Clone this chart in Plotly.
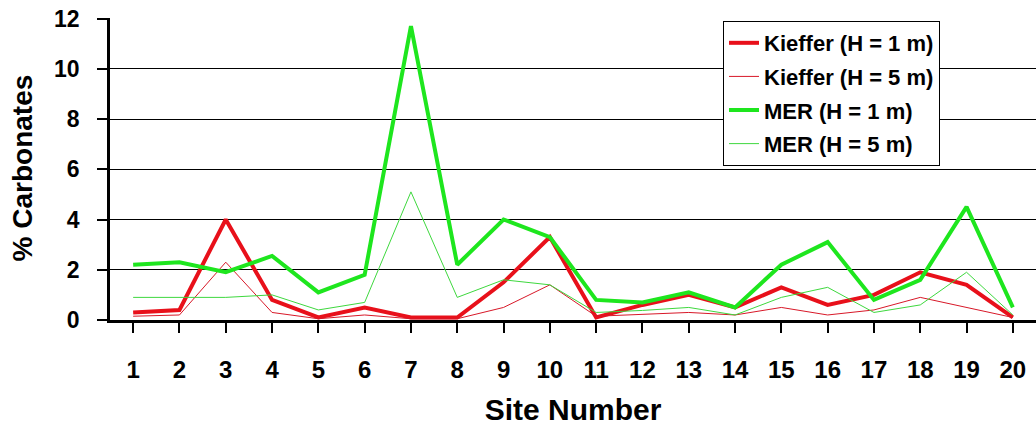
import plotly.graph_objects as go

sites = list(range(1, 21))
tick_labels = [str(s) for s in sites]

kieffer_1m = [0.3, 0.4, 4.0, 0.8, 0.1, 0.5, 0.1, 0.1, 1.5, 3.3,
              0.1, 0.6, 1.0, 0.5, 1.3, 0.6, 1.0, 1.9, 1.4, 0.1]
kieffer_5m = [0.15, 0.2, 2.3, 0.3, 0.05, 0.2, 0.05, 0.05, 0.5, 1.4,
              0.15, 0.22, 0.3, 0.2, 0.5, 0.2, 0.4, 0.9, 0.5, 0.1]
mer_1m = [2.2, 2.3, 1.9, 2.55, 1.1, 1.8, 11.7, 2.2, 4.0, 3.3,
          0.8, 0.7, 1.1, 0.5, 2.2, 3.1, 0.8, 1.6, 4.5, 0.5]
mer_5m = [0.9, 0.9, 0.9, 1.0, 0.4, 0.7, 5.1, 0.9, 1.6, 1.4,
          0.3, 0.38, 0.5, 0.2, 0.9, 1.3, 0.3, 0.6, 1.9, 0.2]
y_ticks = [0, 2, 4, 6, 8, 10, 12]

RED = "#e8101a"
GREEN = "#1ee61e"
FONT = "Liberation Sans, Arial, sans-serif"

fig = go.Figure()
series = [
    ("Kieffer (H = 1 m)", kieffer_1m, RED, 4),
    ("Kieffer (H = 5 m)", kieffer_5m, "#d81828", 1),
    ("MER (H = 1 m)", mer_1m, GREEN, 4),
    ("MER (H = 5 m)", mer_5m, "#3ed83e", 1),
]
for i, (name, vals, col, w) in enumerate(series):
    fig.add_trace(go.Scatter(x=sites, y=vals, mode="lines", name=name,
                             legendgroup=f"g{i}",
                             line=dict(color=col, width=w)))

fig.update_layout(
    width=1036, height=428,
    margin=dict(l=110, r=0, t=18, b=108),
    paper_bgcolor="white", plot_bgcolor="white",
    font=dict(family=FONT, color="black"),
    showlegend=True,
    legend=dict(x=0.662, y=0.99, xanchor="left", yanchor="top",
                bgcolor="white", bordercolor="black", borderwidth=1,
                font=dict(size=22, family=FONT, color="black", weight="bold"),
                tracegroupgap=2, traceorder="grouped"),
    xaxis=dict(range=[0.5, 20.5], tickmode="array", tickvals=sites,
               ticktext=tick_labels, ticks="outside", ticklen=10,
               tickwidth=2, tickcolor="black", showgrid=False,
               showline=True, linecolor="black", linewidth=3,
               zeroline=False, ticklabelstandoff=16, automargin=False,
               ticklabeloverflow="allow",
               tickfont=dict(size=24, family=FONT, color="black", weight="bold"),
               title=dict(text="Site Number", standoff=18,
                          font=dict(size=30, family=FONT, color="black", weight="bold"))),
    yaxis=dict(range=[0, 12.02], tickmode="array", tickvals=y_ticks,
               ticktext=[str(v) for v in y_ticks],
               ticks="outside", ticklen=10, tickwidth=1.5, tickcolor="black",
               showgrid=True, gridcolor="black", gridwidth=1,
               showline=True, linecolor="black", linewidth=2.5,
               zeroline=False, ticklabelstandoff=13, automargin=False,
               ticklabeloverflow="allow",
               tickfont=dict(size=23, family=FONT, color="black", weight="bold")),
    annotations=[dict(text="% Carbonates", xref="paper", yref="paper",
                      x=-0.094, y=0.505, xanchor="center", yanchor="middle",
                      textangle=-90, showarrow=False,
                      font=dict(size=28, family=FONT, color="black", weight="bold"))],
)

fig.write_html("out.html", config={"displayModeBar": False},
               post_script="document.body.style.margin='0';"
                           "document.body.style.overflow='hidden';")
